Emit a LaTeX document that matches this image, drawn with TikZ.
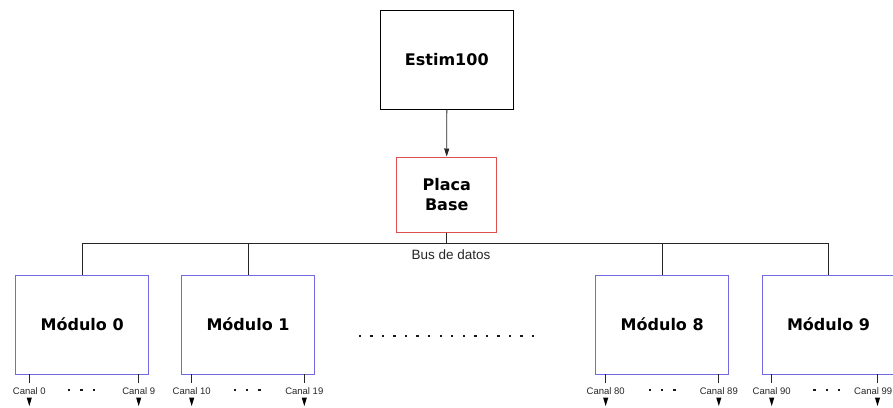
\documentclass[tikz,border=0pt]{standalone}
\usepackage{fontspec}
\setmainfont{Liberation Sans}
\newfontfamily\vfont{DejaVu Sans}
\usetikzlibrary{arrows.meta}
\definecolor{modblue}{RGB}{115,105,225}
\definecolor{placared}{RGB}{220,80,80}
\begin{document}
\begin{tikzpicture}[x=1pt,y=-1pt,
  box/.style={draw, line width=1pt, inner sep=0pt, align=center,
    font=\vfont\bfseries\fontsize{16}{20}\selectfont},
  modbox/.style={box, draw=modblue, minimum width=133pt, minimum height=99pt},
  canal/.style={font=\fontsize{9.5}{11}\selectfont, inner sep=0pt, text=black!85},
  wire/.style={line width=0.9pt, draw=black!85},
  dotsq/.style={fill=black!90},
  tri/.style={fill=black}]
\useasboundingbox (0,0) rectangle (893,407);
\clip (0,0) rectangle (893,407);
\fill[white] (0,0) rectangle (893,407);

\node[box, minimum width=132.5pt, minimum height=99pt] (estim) at (446.8,59.5) {Estim100};
\node[box, draw=placared, minimum width=100pt, minimum height=75pt] (placa) at (446.7,194.5) {Placa\\Base};
\draw[wire, -{Triangle[width=5pt,length=8pt]}] (estim.south) -- (placa.north);

\coordinate (busL) at (82.2,243);
\coordinate (busR) at (828.5,243);
\draw[wire] (busL) -- (busR);
\draw[wire] (placa.south) -- (placa.south |- busL);
\node[font=\fontsize{13.5}{15}\selectfont, inner sep=0pt, text=black!85] (bus) at (451,254.5) {Bus de datos};

\node[modbox] (m0) at (82.2,324.5) {Módulo 0};
\node[modbox] (m1) at (248,324.5) {Módulo 1};
\node[modbox] (m8) at (662.2,324.5) {Módulo 8};
\node[modbox] (m9) at (828.5,324.5) {Módulo 9};
\foreach \m in {m0,m1,m8,m9}{
  \draw[wire] (\m.north) -- (\m.north |- busL);
}

% channels
\foreach \xa/\la/\lx in {29.3/0/29.3, 138.7/9/138.7, 191.7/10/191.7, 304.3/19/304.3, 605.7/80/605.7, 718.8/89/718.8, 771.7/90/771.7, 877.5/99/873.2}{
  \draw[wire] (\xa,374) -- (\xa,383);
  \node[canal] (c\la) at (\lx,391.5) {Canal \la};
  \fill[tri] (\xa-2.6,397.5) -- (\xa+2.6,397.5) -- (\xa,406) -- cycle;
}
% small dots
\foreach \cx in {81.5,247,662,826.7}{
  \foreach \d in {-12.3,0,12.3}{
    \fill[dotsq] (\cx+\d-1.2,389) rectangle (\cx+\d+1.2,391.4);
  }
}
% middle dots
\foreach \i in {0,...,15}{
  \fill[dotsq] (360+\i*11.53-1.2,334.8) rectangle (360+\i*11.53+1.2,337.2);
}
\end{tikzpicture}
\end{document}
